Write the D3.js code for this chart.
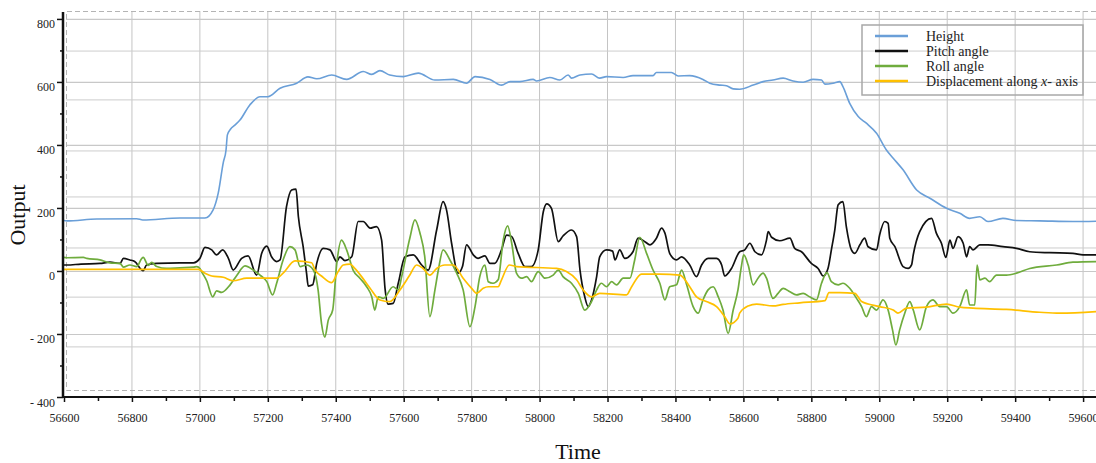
<!DOCTYPE html>
<html>
<head>
<meta charset="utf-8">
<script src="https://cdn.jsdelivr.net/npm/d3@7"></script>
<style>
  body { margin: 0; background: #fff; }
  svg { display: block; }
  svg text { font-family: 'Liberation Serif', 'Times New Roman', serif; }
</style>
</head>
<body>
<script>
// [time, value] pairs
var height = [[56600,160],[56608,159],[56696,165],[56814,166],[56832,162],[56941,168],[56991,168],[57015,168],
  [57039,194],[57054,247],[57069,345],[57077,384],[57081,432],[57090,450],[57103,463],[57118,479],[57147,527],
  [57177,553],[57200,553],[57236,580],[57285,596],[57318,616],[57344,610],[57388,622],[57432,608],[57481,633],
  [57506,624],[57530,636],[57559,622],[57599,617],[57643,628],[57692,606],[57746,608],[57785,596],[57810,617],
  [57854,608],[57888,590],[57913,601],[57942,601],[57981,608],[57991,603],[58030,614],[58060,606],[58084,622],
  [58094,612],[58119,622],[58153,625],[58177,612],[58197,617],[58246,614],[58275,620],[58334,620],[58344,630],
  [58388,630],[58408,619],[58442,620],[58481,608],[58501,596],[58531,590],[58550,588],[58570,578],[58589,577],
  [58629,590],[58658,601],[58687,606],[58717,612],[58746,603],[58776,599],[58805,608],[58830,606],[58840,593],
  [58864,596],[58884,601],[58893,585],[58913,532],[58938,490],[58962,469],[58992,437],[59021,384],[59041,358],
  [59070,321],[59110,257],[59149,231],[59198,199],[59237,183],[59266,167],[59296,172],[59320,157],[59364,167],
  [59404,160],[59472,159],[59570,157],[59640,158]];

var pitch = [[56600,19],[56608,19],[56650,22],[56706,24],[56735,28],[56765,24],[56775,40],[56794,35],[56808,30],
  [56833,1],[56843,19],[56873,24],[56941,26],[56981,26],[57000,40],[57015,75],[57035,67],[57049,51],[57067,67],
  [57084,40],[57098,3],[57123,40],[57142,48],[57167,-13],[57182,56],[57197,79],[57211,45],[57226,30],[57236,35],
  [57255,204],[57270,257],[57283,260],[57290,172],[57304,77],[57314,-7],[57319,-48],[57332,-44],[57344,24],
  [57363,72],[57383,67],[57403,30],[57412,45],[57427,33],[57447,45],[57466,157],[57481,157],[57501,136],
  [57520,141],[57535,98],[57545,-55],[57554,-105],[57569,-103],[57584,-39],[57604,45],[57628,51],[57653,19],
  [57672,3],[57697,130],[57716,220],[57726,194],[57741,88],[57760,-7],[57773,14],[57785,83],[57805,51],
  [57819,40],[57839,48],[57854,24],[57868,24],[57888,67],[57903,114],[57918,109],[57937,56],[57957,14],
  [57976,14],[57996,67],[58011,188],[58021,213],[58035,199],[58055,93],[58069,111],[58094,130],[58109,109],
  [58119,3],[58133,-82],[58143,-113],[58153,-92],[58168,-18],[58177,45],[58197,67],[58215,63],[58222,35],
  [58236,67],[58251,40],[58275,61],[58290,104],[58310,93],[58325,83],[58344,104],[58359,136],[58369,120],
  [58383,56],[58403,35],[58418,45],[58442,19],[58462,-18],[58477,19],[58496,40],[58521,40],[58536,19],
  [58545,-16],[58565,8],[58589,61],[58604,67],[58619,88],[58634,61],[58653,51],[58668,98],[58673,125],
  [58683,107],[58707,96],[58737,104],[58751,72],[58771,61],[58800,24],[58820,8],[58835,-16],[58849,8],
  [58859,67],[58869,130],[58879,210],[58893,220],[58903,141],[58918,67],[58928,56],[58943,83],[58957,104],
  [58967,77],[58992,67],[59001,114],[59016,157],[59026,151],[59031,104],[59046,77],[59070,14],[59085,8],
  [59095,19],[59100,51],[59119,125],[59154,167],[59168,120],[59183,88],[59196,43],[59208,98],[59217,72],
  [59232,109],[59247,88],[59257,45],[59266,77],[59276,67],[59296,83],[59320,83],[59364,77],[59404,72],
  [59443,61],[59502,58],[59570,56],[59600,51],[59640,51]];

var roll = [[56600,43],[56608,42],[56657,43],[56667,40],[56706,35],[56735,26],[56765,24],[56775,12],[56794,19],
  [56814,14],[56829,40],[56833,43],[56848,18],[56858,27],[56873,14],[56902,8],[56941,10],[56981,12],[56991,14],
  [57000,8],[57005,-2],[57020,-31],[57038,-82],[57049,-63],[57064,-68],[57089,-44],[57108,-15],[57133,16],
  [57157,3],[57177,-13],[57197,-34],[57214,-76],[57226,-39],[57245,35],[57265,77],[57280,67],[57295,14],
  [57314,19],[57334,3],[57348,-60],[57358,-166],[57368,-210],[57378,-156],[57391,-124],[57403,24],[57417,98],
  [57432,67],[57451,3],[57471,-23],[57491,-50],[57506,-82],[57515,-124],[57525,-82],[57540,-87],[57569,-50],
  [57584,-60],[57594,-18],[57618,104],[57633,162],[57648,120],[57662,45],[57677,-145],[57692,-60],[57702,3],
  [57716,67],[57736,35],[57756,-7],[57775,-60],[57795,-177],[57810,-113],[57824,-18],[57839,19],[57849,-34],
  [57863,-39],[57878,-28],[57893,98],[57906,143],[57918,88],[57932,-7],[57947,-23],[57962,-18],[57976,-34],
  [57996,-2],[58016,-23],[58040,-13],[58055,3],[58069,-18],[58094,-39],[58114,-71],[58133,-124],[58153,-97],
  [58168,-60],[58182,-39],[58197,-50],[58212,-34],[58227,-44],[58246,-23],[58266,-23],[58280,35],[58295,107],
  [58315,56],[58334,3],[58354,-39],[58369,-92],[58383,-50],[58403,-44],[58418,3],[58433,-44],[58452,-113],
  [58467,-134],[58481,-92],[58496,-60],[58511,-50],[58526,-82],[58540,-124],[58555,-198],[58570,-124],
  [58584,-60],[58594,14],[58601,51],[58614,19],[58629,-44],[58643,-23],[58658,-7],[58668,-23],[58687,-87],
  [58702,-71],[58717,-55],[58737,-66],[58756,-76],[58776,-71],[58795,-82],[58815,-92],[58830,-39],[58846,-5],
  [58859,-34],[58879,-44],[58893,-39],[58913,-55],[58933,-87],[58948,-113],[58962,-145],[58977,-113],
  [58992,-124],[59011,-92],[59026,-124],[59039,-187],[59049,-235],[59060,-187],[59075,-134],[59090,-97],
  [59100,-124],[59119,-187],[59139,-113],[59158,-92],[59178,-113],[59198,-113],[59217,-134],[59237,-113],
  [59257,-60],[59266,-108],[59281,-108],[59288,19],[59296,-28],[59311,-23],[59325,-34],[59345,-13],
  [59374,-13],[59404,-7],[59443,8],[59522,19],[59570,28],[59640,30]];

var displacement = [[56600,5],[56995,5],[57015,-7],[57035,-16],[57069,-20],[57098,-31],[57138,-23],[57226,-23],
  [57245,-7],[57280,32],[57329,26],[57339,3],[57358,-16],[57388,-37],[57407,-2],[57422,19],[57442,22],
  [57456,8],[57476,-18],[57501,-55],[57530,-92],[57559,-97],[57589,-60],[57618,-13],[57638,19],[57657,8],
  [57677,-13],[57697,8],[57721,19],[57746,19],[57775,-23],[57800,-55],[57815,-71],[57834,-55],[57849,-50],
  [57878,-50],[57888,-28],[57911,19],[57932,14],[58050,8],[58079,-2],[58109,-28],[58128,-60],[58153,-82],
  [58177,-71],[58256,-76],[58271,-50],[58300,-10],[58354,-10],[58413,-13],[58442,-50],[58462,-82],
  [58491,-97],[58521,-113],[58545,-145],[58560,-168],[58584,-150],[58589,-134],[58614,-111],[58639,-105],
  [58687,-111],[58717,-106],[58766,-101],[58840,-94],[58852,-69],[58884,-69],[58928,-71],[58948,-97],
  [59001,-113],[59041,-124],[59055,-134],[59080,-118],[59139,-115],[59198,-105],[59237,-115],[59276,-118],
  [59374,-122],[59472,-131],[59531,-134],[59640,-129]];

var seriesNames = ['Height', 'Pitch angle', 'Roll angle', 'Displacement along x- axis'];
var seriesColors = ['#6a9fd8', '#111111', '#6fac3d', '#ffc000'];

var xMajor = d3.range(56600, 59601, 200);
var xMinor = d3.range(56700, 59700, 200);
var yMajor = [-400, -200, 0, 200, 400, 600, 800];
var yMinor = [-300, -100, 100, 300, 500, 700];
var altGrid = [698, 543, 381, 235, 73, -83, -241];

var w = 1096, h = 463;
var serif = "'Liberation Serif', 'Times New Roman', serif";

var xScale = d3.scaleLinear().domain([56600, 59638]).range([64, 1096]);
var yScale = d3.scaleLinear().domain([-400, 822]).range([397, 12]);

var svg = d3.select('body').append('svg')
  .attr('width', w)
  .attr('height', h);

// grid
var grid = svg.append('g');
grid.selectAll('.vg')
  .data(xMajor.slice(1))
  .enter().append('line')
  .attr('x1', function(d){ return xScale(d); })
  .attr('x2', function(d){ return xScale(d); })
  .attr('y1', 11).attr('y2', 397)
  .attr('stroke', '#c4c4c4').attr('stroke-width', 1);

grid.selectAll('.hg')
  .data(yMajor.slice(1))
  .enter().append('line')
  .attr('x1', 66).attr('x2', w)
  .attr('y1', function(d){ return yScale(d) + 0.5; })
  .attr('y2', function(d){ return yScale(d) + 0.5; })
  .attr('stroke', '#c8c8c8').attr('stroke-width', 1.2);

grid.selectAll('.ag')
  .data(altGrid)
  .enter().append('line')
  .attr('x1', 66).attr('x2', w)
  .attr('y1', function(d){ return yScale(d); })
  .attr('y2', function(d){ return yScale(d); })
  .attr('stroke', '#cdcdcd').attr('stroke-width', 1);

// dashed plot frame
svg.append('path')
  .attr('d', 'M' + w + ',11.5H66.5V390.5H' + w)
  .attr('fill', 'none')
  .attr('stroke', '#b4b4b4')
  .attr('stroke-width', 1)
  .attr('stroke-dasharray', '5,3');

// lines
var line = d3.line()
  .curve(d3.curveMonotoneX)
  .x(function(d){ return xScale(d[0]); })
  .y(function(d){ return yScale(d[1]); });

[height, pitch, roll, displacement].forEach(function(s, i){
  svg.append('path')
    .datum(s)
    .attr('d', line)
    .attr('fill', 'none')
    .attr('stroke', seriesColors[i])
    .attr('stroke-width', i == 0 ? 1.6 : 1.7)
    .attr('stroke-linejoin', 'round');
});

// axes
var fmtY = function(d){ return d < 0 ? '- ' + Math.abs(d) : d; };

var yAxis = d3.axisLeft(yScale).tickValues(yMajor).tickSize(6).tickFormat(fmtY);
var gy = svg.append('g')
  .attr('transform', 'translate(63,0)')
  .call(yAxis)
  .attr('font-family', serif);
gy.selectAll('text').attr('font-size', '12px').attr('fill', '#222').attr('dy', '0.75em').attr('x', -8);
gy.select('.domain').remove();

var gyMinor = svg.append('g')
  .attr('transform', 'translate(63,0)')
  .call(d3.axisLeft(yScale).tickValues(yMinor).tickSize(3).tickFormat(''));
gyMinor.select('.domain').remove();

var xAxis = d3.axisBottom(xScale).tickValues(xMajor).tickSize(5).tickFormat(function(d){ return d; });
var gx = svg.append('g')
  .attr('transform', 'translate(0,397)')
  .call(xAxis)
  .attr('font-family', serif);
gx.selectAll('text').attr('font-size', '12px').attr('fill', '#222').attr('y', 16);
gx.select('.domain').remove();

var gxMinor = svg.append('g')
  .attr('transform', 'translate(0,397)')
  .call(d3.axisBottom(xScale).tickValues(xMinor).tickSize(4).tickFormat(''));
gxMinor.select('.domain').remove();

svg.selectAll('.tick line').attr('stroke', '#111').attr('stroke-width', 1.5);

svg.append('line')
  .attr('x1', 63).attr('x2', 63).attr('y1', 12).attr('y2', 398)
  .attr('stroke', '#111').attr('stroke-width', 2.5);
svg.append('line')
  .attr('x1', 62).attr('x2', w).attr('y1', 397).attr('y2', 397)
  .attr('stroke', '#111').attr('stroke-width', 2);

// axis titles
svg.append('text')
  .attr('x', 578).attr('y', 459)
  .attr('text-anchor', 'middle')
  .attr('font-size', '22px')
  .attr('fill', '#111')
  .text('Time');

svg.append('text')
  .attr('transform', 'translate(25,215) rotate(-90)')
  .attr('text-anchor', 'middle')
  .attr('font-size', '22px')
  .attr('fill', '#111')
  .text('Output');

// legend
var legend = svg.append('g');
legend.append('rect')
  .attr('x', 862).attr('y', 25)
  .attr('width', 221).attr('height', 70)
  .attr('fill', 'none')
  .attr('stroke', '#a8a8a8')
  .attr('stroke-width', 1.5);

var items = legend.selectAll('.item')
  .data(seriesNames)
  .enter().append('g')
  .attr('transform', function(d, i){ return 'translate(875,' + (36 + i * 15) + ')'; });

items.append('line')
  .attr('x1', 0).attr('x2', 33)
  .attr('stroke', function(d, i){ return seriesColors[i]; })
  .attr('stroke-width', 2.5);

items.append('text')
  .attr('x', 51).attr('y', 4.5)
  .attr('font-size', '14px')
  .attr('fill', '#222')
  .each(function(d){
    var t = d3.select(this);
    if (d.indexOf('x-') >= 0) {
      t.append('tspan').text('Displacement along ');
      t.append('tspan').attr('font-style', 'italic').text('x');
      t.append('tspan').text('- axis');
    } else {
      t.text(d);
    }
  });
</script>
</body>
</html>
